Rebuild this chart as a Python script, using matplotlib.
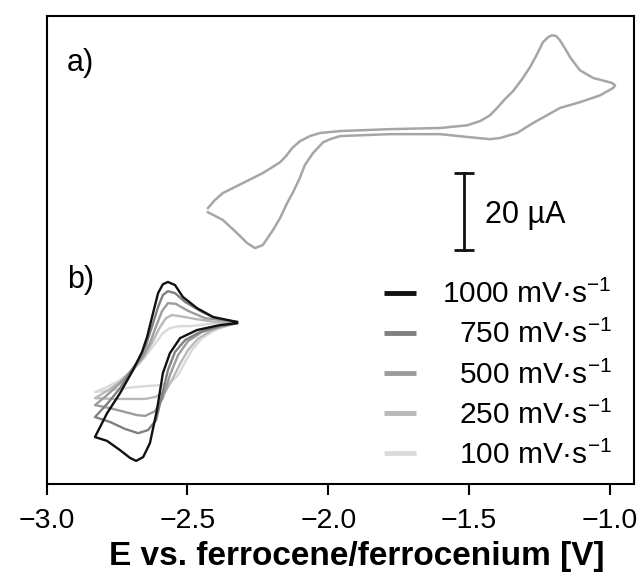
import matplotlib
matplotlib.use("Agg")
import matplotlib.pyplot as plt
from matplotlib import transforms

# a) single CV, potential [V] and current [uA] (offset for display)
a_volts = [-2.427, -2.402, -2.374, -2.303, -2.232, -2.171, -2.150, -2.128, -2.100, -2.065,
           -2.029, -1.958, -1.781, -1.603, -1.507, -1.461, -1.426, -1.401, -1.373, -1.344,
           -1.312, -1.284, -1.259, -1.238, -1.220, -1.206, -1.192, -1.178, -1.160, -1.142,
           -1.107, -1.060, -1.018, -0.993, -0.982,
           -0.989, -1.035, -1.107, -1.178, -1.224, -1.273, -1.330, -1.390, -1.426, -1.497,
           -1.603, -1.781, -1.958, -1.993, -2.018, -2.054, -2.083, -2.100, -2.125, -2.146,
           -2.171, -2.196, -2.232, -2.260, -2.288, -2.324, -2.374, -2.427]
a_current = [71.7, 73.8, 75.6, 78.2, 80.8, 83.6, 85.2, 87.3, 89.1, 90.4,
             91.2, 91.7, 92.2, 92.5, 93.2, 94.3, 95.8, 97.7, 100.0, 102.1,
             105.2, 108.3, 111.7, 114.8, 116.1, 116.6, 116.4, 115.3, 113.2, 110.9,
             107.5, 105.5, 104.7, 104.2, 103.6,
             102.9, 101.0, 99.2, 97.7, 95.8, 93.8, 91.2, 89.9, 89.6, 90.1,
             90.9, 90.9, 90.4, 89.6, 88.8, 86.0, 82.9, 79.7, 75.8, 73.0,
             69.1, 66.0, 62.1, 61.3, 62.6, 65.2, 68.6, 70.6]

# b) scan-rate series
rates = ["100", "250", "500", "750", "1000"]
rate_colors = ["#dadada", "#b9b9b9", "#9c9c9c", "#808080", "#111111"]

v_100 = [-2.324, -2.366, -2.402, -2.448, -2.484, -2.508, -2.533, -2.562, -2.597, -2.633,
         -2.686, -2.739, -2.792, -2.828, -2.785, -2.739, -2.693, -2.650, -2.615, -2.587,
         -2.562, -2.533, -2.491, -2.420, -2.324]
i_100 = [41.8, 41.0, 40.0, 37.9, 34.8, 31.7, 28.3, 26.2, 25.7, 25.5,
         25.2, 24.7, 24.2, 23.9, 25.2, 27.0, 29.6, 33.0, 36.4, 39.2,
         40.5, 41.0, 41.0, 41.6, 42.1]

v_250 = [-2.324, -2.366, -2.413, -2.463, -2.498, -2.526, -2.555, -2.579, -2.615, -2.650,
         -2.704, -2.757, -2.828, -2.785, -2.739, -2.693, -2.657, -2.626, -2.597, -2.576,
         -2.555, -2.526, -2.473, -2.402, -2.324]
i_250 = [41.8, 41.0, 40.0, 37.7, 34.8, 31.2, 27.0, 23.9, 22.6, 22.1,
         22.1, 22.1, 22.3, 24.2, 26.5, 29.6, 32.7, 36.6, 40.8, 43.1,
         43.9, 43.6, 42.9, 42.1, 42.1]

v_500 = [-2.324, -2.384, -2.448, -2.498, -2.533, -2.562, -2.587, -2.615, -2.650, -2.679,
         -2.721, -2.774, -2.828, -2.785, -2.739, -2.693, -2.661, -2.633, -2.611, -2.590,
         -2.569, -2.541, -2.498, -2.438, -2.324]
i_500 = [41.8, 41.0, 39.5, 37.1, 33.5, 28.3, 22.3, 18.9, 17.7, 17.9,
         18.7, 19.7, 20.5, 23.1, 26.2, 30.1, 32.7, 36.6, 41.0, 44.9,
         47.0, 46.8, 45.0, 43.1, 42.1]

v_750 = [-2.324, -2.384, -2.455, -2.508, -2.544, -2.569, -2.590, -2.611, -2.640, -2.675,
         -2.721, -2.774, -2.828, -2.785, -2.739, -2.693, -2.668, -2.647, -2.626, -2.604,
         -2.587, -2.569, -2.544, -2.508, -2.455, -2.402, -2.324]
i_750 = [41.8, 41.0, 39.5, 37.4, 34.3, 29.6, 23.1, 16.6, 14.0, 13.2,
         14.3, 16.1, 17.4, 20.8, 24.9, 30.1, 32.7, 36.1, 40.8, 46.0,
         49.1, 50.1, 49.6, 47.3, 45.0, 43.1, 42.1]

v_1000 = [-2.324, -2.384, -2.466, -2.526, -2.562, -2.587, -2.608, -2.633, -2.657, -2.682,
          -2.704, -2.739, -2.785, -2.828, -2.785, -2.739, -2.693, -2.661, -2.643, -2.622,
          -2.604, -2.587, -2.569, -2.544, -2.516, -2.466, -2.409, -2.324]
i_1000 = [41.8, 41.3, 40.0, 37.9, 34.0, 28.8, 19.2, 10.6, 7.0, 6.0,
          6.8, 8.8, 11.2, 12.2, 18.4, 23.6, 29.6, 34.3, 38.2, 44.4,
          49.6, 51.9, 52.5, 51.7, 48.6, 45.7, 43.4, 42.1]

b_volts = [v_100, v_250, v_500, v_750, v_1000]
b_current = [i_100, i_250, i_500, i_750, i_1000]

xticks = [-3.0, -2.5, -2.0, -1.5, -1.0]

# scale bar (uA)
bar_x = -1.518
bar_y0 = 60.8
bar_len = 20

plt.rcParams["font.family"] = ["Liberation Sans", "DejaVu Sans"]
plt.rcParams["mathtext.fontset"] = "custom"
plt.rcParams["mathtext.rm"] = "Liberation Sans"
plt.rcParams["mathtext.it"] = "Liberation Sans:italic"
plt.rcParams["mathtext.bf"] = "Liberation Sans:bold"

fig = plt.figure(figsize=(6.38, 5.77), dpi=100)
ax = fig.add_axes([46.5 / 638, 1 - 484 / 577, 587.5 / 638, 468 / 577])

ax.plot(a_volts, a_current, color="#a6a6a6", lw=1.8, solid_joinstyle="round")
for v, i, c in zip(b_volts, b_current, rate_colors):
    ax.plot(v, i, color=c, lw=1.7, solid_joinstyle="round")

# scale bar
ax.plot([bar_x, bar_x], [bar_y0, bar_y0 + bar_len], color="#111111", lw=2.0,
        marker="_", ms=15, mew=2.0)
ax.text(bar_x + 0.074, bar_y0 + 6.9, "20 µA", fontsize=22, ha="left", va="baseline")

ax.text(0.035, 0.883, "a)", transform=ax.transAxes, fontsize=22, va="baseline")
ax.text(0.035, 0.418, "b)", transform=ax.transAxes, fontsize=22, va="baseline")

# legend drawn by hand so that labels are right aligned
rows = [0.0656, 0.1511, 0.2365, 0.3233, 0.4088]
text_tr = transforms.offset_copy(ax.transAxes, fig=fig, y=-7.7, units="points")
for r, c, y in zip(rates, rate_colors, rows):
    ax.plot([0.5745, 0.6284], [y, y], transform=ax.transAxes, color=c, lw=3.5,
            solid_capstyle="butt")
    ax.text(0.962, y, r + r" mV·s$^{-1}$", transform=text_tr, fontsize=21.5,
            ha="right", va="baseline")

ax.set_xlim(-3.0, -0.915)
ax.set_ylim(0, 121.6)
ax.set_xticks(xticks)
ax.set_yticks([])
ax.tick_params(axis="x", direction="out", length=8, width=1.5, labelsize=20.5, pad=9)
for s in ax.spines.values():
    s.set_linewidth(1.5)
ax.set_xlabel("E vs. ferrocene/ferrocenium [V]", fontsize=24, fontweight="bold")
ax.xaxis.set_label_coords(0.528, -0.122)

fig.savefig("out.png", dpi=100)
